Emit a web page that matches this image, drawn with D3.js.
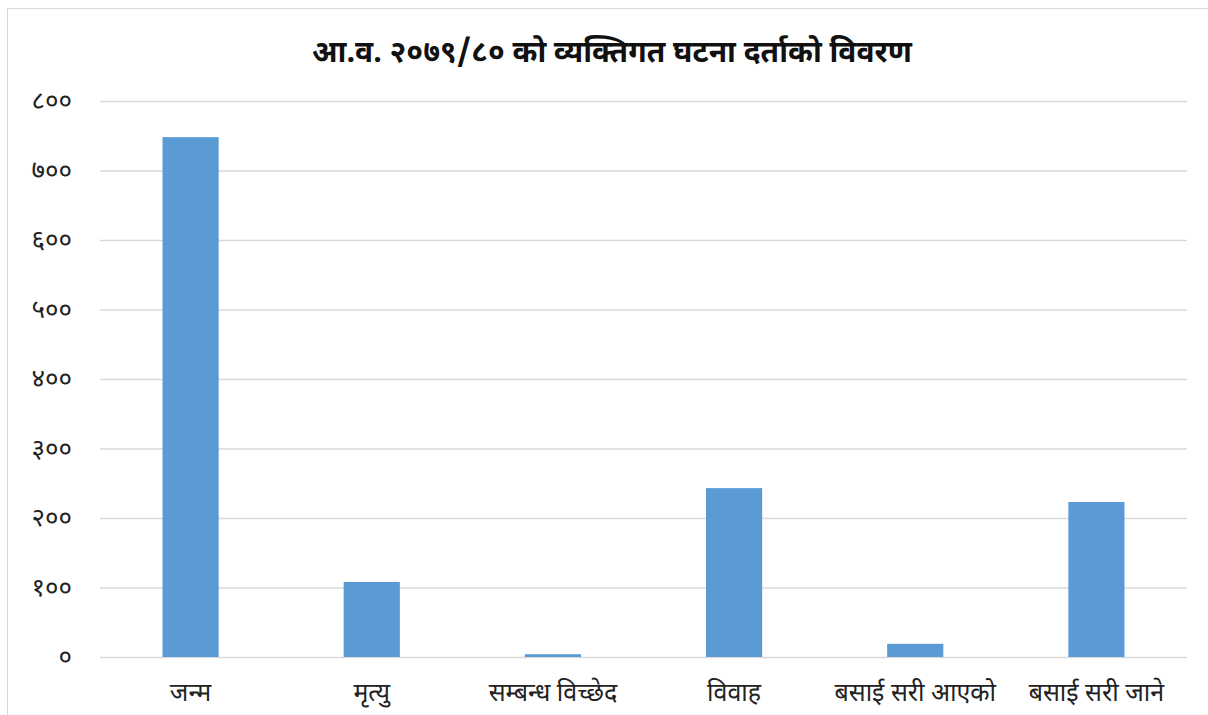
<!DOCTYPE html>
<html>
<head>
<meta charset="utf-8">
<script src="https://cdn.jsdelivr.net/npm/d3@7"></script>
<style>
  html, body { margin: 0; padding: 0; background: #fff; }
  svg { display: block; }
  text { font-family: "Noto Sans Devanagari", "Lohit Devanagari", "Kalimati", "Mangal", "FreeSans", sans-serif; }
</style>
</head>
<body>
<svg id="chart" width="1208" height="715"></svg>
<script>
const title = "आ.व. २०७९/८० को व्यक्तिगत घटना दर्ताको विवरण";
const categories = ["जन्म", "मृत्यु", "सम्बन्ध विच्छेद", "विवाह", "बसाई सरी आएको", "बसाई सरी जाने"];
const values = [748, 108, 4, 243, 19, 223];
const tickValues = [0, 100, 200, 300, 400, 500, 600, 700, 800];

const devDigits = "०१२३४५६७८९";
const toDev = n => String(n).replace(/[0-9]/g, d => devDigits[+d]);

const svg = d3.select("#chart");
const plot = { left: 100, right: 1187, top: 101, bottom: 657 };

// chart border
svg.append("rect").attr("x", 7.5).attr("y", 8.5).attr("width", 1220).attr("height", 720)
  .attr("fill", "#fff").attr("stroke", "#d9d9d9").attr("stroke-width", 1);

const x = d3.scaleBand().domain(categories).range([plot.left, plot.right])
  .paddingInner(0.69).paddingOuter(0.345);
const y = d3.scaleLinear().domain([0, 800]).range([plot.bottom, plot.top]);

// gridlines + y labels
const yAxis = d3.axisLeft(y).tickValues(tickValues).tickSize(-(plot.right - plot.left)).tickFormat(toDev).tickPadding(28);
const gy = svg.append("g").attr("transform", `translate(${plot.left},0)`).call(yAxis);
gy.select(".domain").remove();
gy.selectAll(".tick line").attr("stroke", "#d9d9d9").attr("stroke-width", 1.5);
gy.selectAll(".tick text").attr("fill", "#222").style("font-size", "26px").attr("dy", "0.3em");

// bars
svg.append("g").selectAll("rect").data(values).join("rect")
  .attr("x", (d, i) => x(categories[i]))
  .attr("width", x.bandwidth())
  .attr("y", d => y(d))
  .attr("height", d => y(0) - y(d))
  .attr("fill", "#5b9bd5");

// x axis labels
const xAxis = d3.axisBottom(x).tickSize(0).tickPadding(26);
const gx = svg.append("g").attr("transform", `translate(0,${plot.bottom})`).call(xAxis);
gx.select(".domain").remove();
gx.selectAll(".tick text").attr("fill", "#222").style("font-size", "25px");

// title
svg.append("text").attr("x", 612).attr("y", 62).attr("text-anchor", "middle")
  .style("font-size", "30px").style("font-weight", "bold").attr("fill", "#111")
  .text(title);
</script>
</body>
</html>
